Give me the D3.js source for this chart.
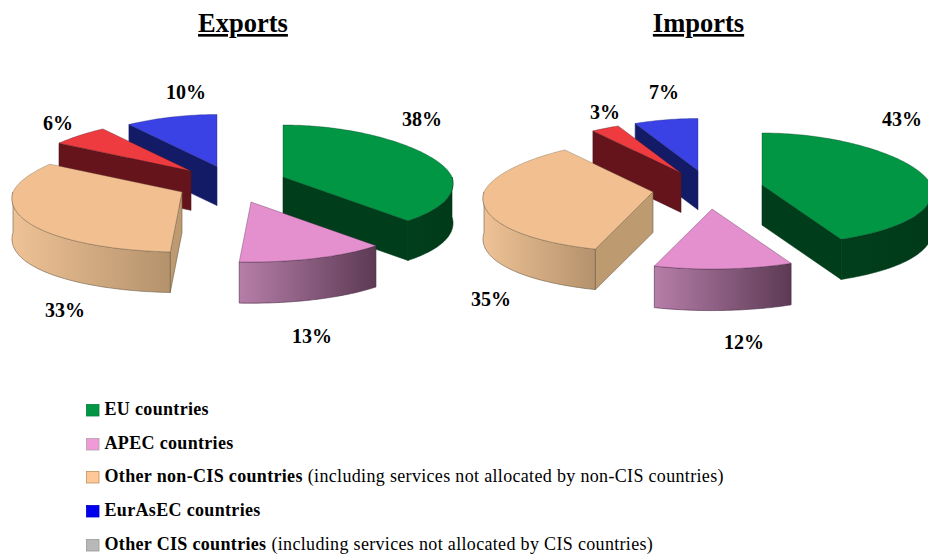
<!DOCTYPE html>
<html><head><meta charset="utf-8">
<script src="https://cdnjs.cloudflare.com/ajax/libs/d3/7.8.5/d3.min.js"></script>
<style>html,body{margin:0;padding:0;background:#fff}svg{display:block}text{font-family:"Liberation Serif","Times New Roman",serif;fill:#000}</style>
</head><body><svg id="c" width="928" height="554"></svg>
<script>
// ---- data ----
const categories = ["EU countries","APEC countries","Other non-CIS countries","Other CIS countries","EurAsEC countries"];
const exportsValues = [38,13,33,6,10];
const importsValues = [43,12,35,3,7];
const chartTitles = ["Exports","Imports"];
const legendBold = ["EU countries","APEC countries","Other non-CIS countries","EurAsEC countries","Other CIS countries"];
const legendNote = ["","","(including services not allocated by non-CIS countries)","","(including services not allocated by CIS countries)"];
// ---- styles and layout ----
const topColors = ["#009644","#E490CE","#F2C090","#EE3B3F","#3A42E6"];
const faceColors = ["#003E1B","#5F3C56","#BE9A70","#64141A","#141B66"];
const wallFrom = ["#013F1C","#B67EA9","#EFC296","#64141A","#141B66"];
const wallTo = ["#003A19","#5C3A54","#B4926C","#64141A","#141B66"];
const edgeColors = ["#013a1a","#4a2a44","#6b5a44","#4a1a20","#20246e"];
const legendColors = ["#009644","#F09AD8","#FFC896","#0000EE","#B8B8B8"];
const legendBorders = ["#00803a","#b0a0a8","#b8925f","#0000c8","#999999"];
const legendTextY = [415,449,482,516,550];
const explodeExports = [[48,-5],[16,20],[-53,10],[-44,-11],[-18,-15.5]];
const explodeImports = [[57,2],[7,26],[-52,9],[-24,-10],[-7,-12.5]];
const labelExports = [[187,-56],[77,161],[-170,135],[-177,-52],[-49,-83]];
const labelImports = [[197,-57],[39,166],[-214,123],[-100,-64],[-41,-84]];
const paintOrder = [4,3,0,2,1];
const rx = 169, ryBack = 52, ryFront = 60, depth = 40;

const svg = d3.select("#c");
const defs = svg.append("defs");
categories.forEach((c,i)=>{
  const g = defs.append("linearGradient").attr("id","wall"+i).attr("x1",0).attr("x2",1).attr("y1",0).attr("y2",0);
  g.append("stop").attr("offset",0).attr("stop-color",wallFrom[i]);
  g.append("stop").attr("offset",1).attr("stop-color",wallTo[i]);
});
const xScale = d3.scaleLinear().domain([-1,1]).range([-rx,rx]);
// front of the disc is nearer the viewer, so it projects a little deeper and wider
const yScale = d3.scaleLinear().domain([-1,0,1]).range([-ryBack,0,ryFront]);
const perspective = d3.scaleLinear().domain([-1,0,1]).range([0.86,1,1.11]);
const pie = d3.pie().sort(null).value(d=>d).startAngle(0).endAngle(2*Math.PI);
const line = d3.line();
const rim = (a,ox,oy,dy=0)=>{
  const v = -Math.cos(a);
  return [ox+xScale(Math.sin(a))*perspective(v), oy+yScale(v)+dy];
};
const arcPts = (a0,a1,ox,oy,dy=0)=>{
  const n = Math.max(2,Math.ceil((a1-a0)/0.02));
  return d3.range(n+1).map(i=>rim(a0+(a1-a0)*i/n,ox,oy,dy));
};
function drawPie(cx,cy,values,explode,labels){
  const arcs = pie(values);
  const g = svg.append("g");
  g.selectAll("g.slice").data(paintOrder.map(i=>({i,a:arcs[i]}))).join("g").attr("class","slice").each(function(d){
    const s = d3.select(this), i=d.i, a0=d.a.startAngle, a1=d.a.endAngle;
    const ox = cx+explode[i][0], oy = cy+explode[i][1];
    const h = depth+explode[i][1]*0.06;
    const addFace = ang=>{
      const p = rim(ang,ox,oy);
      s.append("path").attr("d",line([[ox,oy],p,[p[0],p[1]+h],[ox,oy+h]])+"Z")
       .attr("fill",faceColors[i]).attr("stroke",edgeColors[i]).attr("stroke-width",0.6);
    };
    if (Math.sin(a0)<0) addFace(a0);
    if (Math.sin(a1)>0) addFace(a1);
    const w0=Math.max(a0,Math.PI/2), w1=Math.min(a1,3*Math.PI/2);
    if (w1>w0){
      const t=arcPts(w0,w1,ox,oy), b=arcPts(w0,w1,ox,oy,h).reverse();
      s.append("path").attr("d",line(t.concat(b))+"Z").attr("fill",`url(#wall${i})`)
       .attr("stroke",edgeColors[i]).attr("stroke-width",0.6);
    }
    s.append("path").attr("d",line([[ox,oy],...arcPts(a0,a1,ox,oy)])+"Z")
     .attr("fill",topColors[i]).attr("stroke",edgeColors[i]).attr("stroke-width",0.5).attr("stroke-opacity",0.7);
  });
  g.selectAll("text").data(arcs).join("text")
    .attr("x",(d,i)=>cx+labels[i][0]).attr("y",(d,i)=>cy+labels[i][1])
    .attr("text-anchor","middle").attr("font-weight","bold").attr("font-size",20)
    .text(d=>d.value+"%");
}
drawPie(235,182,exportsValues,explodeExports,labelExports);
drawPie(705,183,importsValues,explodeImports,labelImports);

svg.selectAll("text.title").data(chartTitles).join("text").attr("class","title")
  .attr("x",(d,i)=>i?698.5:243).attr("y",32).attr("text-anchor","middle")
  .attr("font-weight","bold").attr("font-size",26.5).attr("text-decoration","underline").text(d=>d);

const leg = svg.append("g").selectAll("g").data(legendBold).join("g");
leg.append("rect").attr("x",86.5).attr("y",(d,i)=>legendTextY[i]-10.5).attr("width",12.5).attr("height",11.5)
  .attr("fill",(d,i)=>legendColors[i]).attr("stroke",(d,i)=>legendBorders[i]).attr("stroke-width",0.8);
const lt = leg.append("text").attr("x",104.5).attr("y",(d,i)=>legendTextY[i]).attr("font-size",18).attr("letter-spacing",0.33);
lt.append("tspan").attr("font-weight","bold").text(d=>d);
lt.append("tspan").attr("dx",(d,i)=>legendNote[i]?5:0).text((d,i)=>legendNote[i]);
</script></body></html>
